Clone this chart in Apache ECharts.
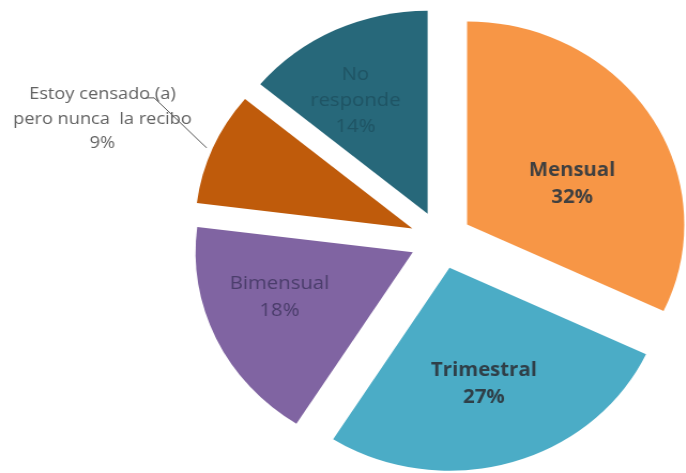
<!DOCTYPE html>
<html>
<head>
<meta charset="utf-8">
<script src="https://cdn.jsdelivr.net/npm/echarts@6/dist/echarts.min.js"></script>
<style>
  html, body { margin: 0; padding: 0; background: #ffffff; overflow: hidden; }
  /* the chart is laid out in a slightly narrower box and widened horizontally */
  #chart { width: 641px; height: 473px; transform: scaleX(1.07); transform-origin: 0 0; }
</style>
</head>
<body>
<div id="chart"></div>
<script>
// Frecuencia con la que se recibe (porcentaje de respuestas)
const categories = ['Mensual', 'Trimestral', 'Bimensual', 'Estoy censado (a) pero nunca la recibo', 'No responde'];
const labelNames = ['Mensual', 'Trimestral', 'Bimensual', 'Estoy censado (a)\npero nunca  la recibo', 'No\nresponde'];
const shares = [32, 27, 18, 9, 14];

const sliceColors = ['#F79646', '#4BACC6', '#8064A2', '#BF5B0B', '#27687A'];
const labelStyles = [
  { position: 'inside', color: '#404040', fontWeight: 'bold', fontSize: 19, lineHeight: 27 },
  { position: 'inside', color: '#2f3f48', fontWeight: 'bold', fontSize: 19, lineHeight: 27 },
  { position: 'inside', color: '#4a3d6b', fontWeight: 'normal', fontSize: 19, lineHeight: 27 },
  { position: 'outside', color: '#626262', fontWeight: 'normal', fontSize: 17, lineHeight: 24.5 },
  { position: 'inside', color: '#1f5464', fontWeight: 'normal', fontSize: 19, lineHeight: 26 }
];
// nudges of the labels away from their default spots
const labelShift = [
  { dx: 10, dy: 16 },
  { dx: 3, dy: 16 },
  { dx: -30, dy: 0 },
  { dx: -70, dy: -21 },
  { dx: -23, dy: -19 }
];

const data = categories.map((name, i) => ({
  name: name,
  value: shares[i],
  selected: true,
  itemStyle: { color: sliceColors[i] },
  label: {
    show: true,
    position: labelStyles[i].position,
    color: labelStyles[i].color,
    fontWeight: labelStyles[i].fontWeight,
    fontSize: labelStyles[i].fontSize,
    lineHeight: labelStyles[i].lineHeight,
    align: 'center'
  },
  labelLine: {
    show: labelStyles[i].position === 'outside',
    length: 20,
    length2: 10,
    lineStyle: { color: '#595959', width: 1 }
  }
}));

const chart = echarts.init(document.getElementById('chart'), null, { renderer: 'canvas' });
chart.setOption({
  animation: false,
  backgroundColor: '#ffffff',
  textStyle: { fontFamily: '"Open Sans", "Noto Sans", sans-serif' },
  series: [{
    type: 'pie',
    center: [412, 240],
    radius: 203,
    startAngle: 90,
    clockwise: true,
    avoidLabelOverlap: false,
    selectedMode: 'multiple',
    selectedOffset: 29,
    emphasis: { disabled: true },
    itemStyle: { borderWidth: 0 },
    label: {
      formatter: p => labelNames[p.dataIndex] + '\n' + p.value + '%'
    },
    labelLayout: function (p) {
      const shift = labelShift[p.dataIndex];
      if (p.dataIndex === 3 && p.labelLinePoints) {
        // leader runs from the rim up-left to the underside of the first text line
        const s = p.labelLinePoints[0];
        return {
          dx: shift.dx,
          dy: shift.dy,
          align: 'center',
          labelLinePoints: [[s[0] - 6, s[1]], [s[0] - 55, s[1] - 50], [s[0] - 63, s[1] - 50]]
        };
      }
      return shift;
    },
    data: data
  }]
});
</script>
</body>
</html>
